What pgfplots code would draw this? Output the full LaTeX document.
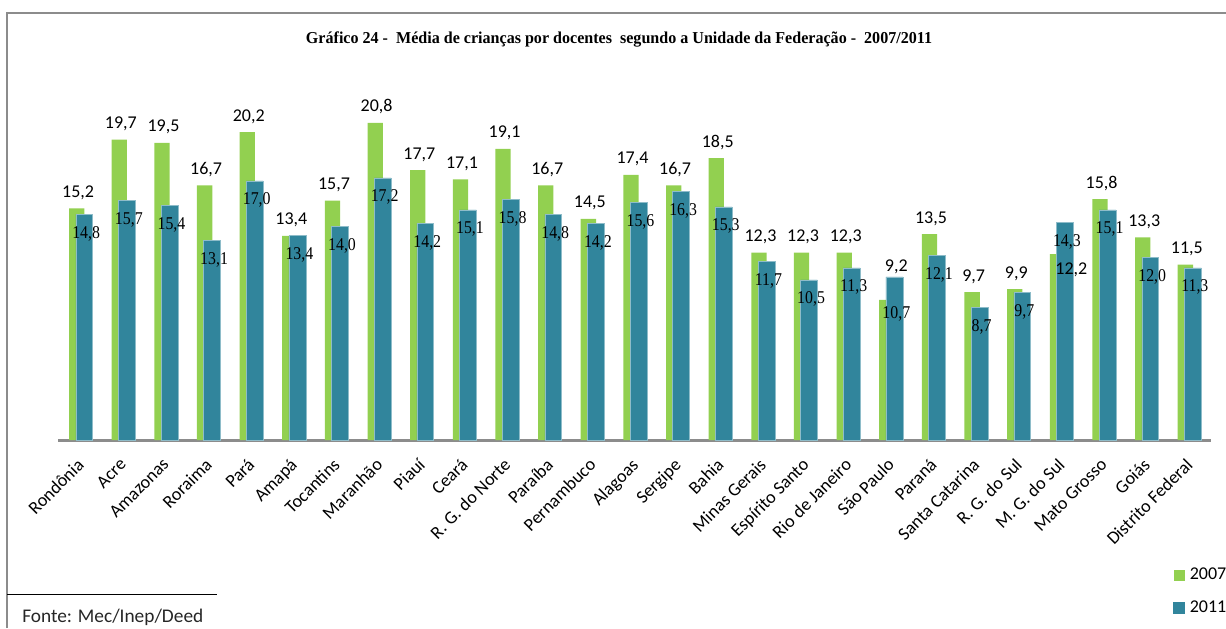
\documentclass[border=0pt]{standalone}
\usepackage{pgfplots}
\pgfplotsset{compat=1.18}
\usepackage{pgfplotstable}
\usepackage{graphicx}
\usepackage{fontspec}
\setmainfont{Carlito}
\newfontfamily\serifF{Liberation Serif}
\definecolor{g07}{HTML}{92D050}
\definecolor{t11}{HTML}{31859C}
\definecolor{framec}{HTML}{8C8C8C}

% x: category index; a: 2007; b: 2011; dxa, dya, dyb: label offsets in px
\pgfplotstableread{
x  a     dxa  dya  b     dyb
0  15.2  0    11   14.8  -24
1  19.7  0    11   15.7  -24
2  19.5  0    11   15.4  -24
3  16.7  0    11   13.1  -24
4  20.2  0    11   17.0  -24
5  13.4  0    11   13.4  -24
6  15.7  0    11   14.0  -24
7  20.8  0    11   17.2  -24
8  17.7  0    11   14.2  -24
9  17.1  0    11   15.1  -24
10 19.1  0    11   15.8  -24
11 16.7  0    11   14.8  -24
12 14.5  0    11   14.2  -24
13 17.4  0    11   15.6  -24
14 16.7  0    11   16.3  -24
15 18.5  0    11   15.3  -24
16 12.3  0    11   11.7  -24
17 12.3  0    11   10.5  -24
18 12.3  0    11   11.3  -24
19 9.2   8    28   10.7  -42
20 13.5  0    11   12.1  -24
21 9.7   0    11   8.7   -24
22 9.9   0    11   9.7   -24
23 12.2  12.5 -20  14.3  -24
24 15.8  0    11   15.1  -24
25 13.3  0    11   12.0  -24
26 11.5  0    11   11.3  -24
}\data

\begin{document}
\begin{tikzpicture}
\useasboundingbox (0,0) rectangle (919.5pt,-471pt);
\draw[framec, line width=1.7pt] (5.25pt,-471pt) -- (5.25pt,-9.75pt) -- (919.5pt,-9.75pt);
\draw[black, line width=0.75pt] (5.25pt,-445.5pt) -- (162.75pt,-445.5pt);
\node[anchor=base west, inner sep=0pt, font=\fontsize{14.5pt}{16pt}\selectfont, text=black!85] at (16.5pt,-466.5pt) {Fonte: Mec/Inep/Deed};
\node[anchor=base, inner sep=0pt, font=\serifF\bfseries\fontsize{12.5pt}{14pt}\selectfont] at (464.25pt,-32.5pt)
  {\resizebox{469.5pt}{\height}{Gráfico 24 -\ \ Média de crianças por docentes\ \ segundo a Unidade da Federação -\ \ 2007/2011}};

\begin{axis}[
  at={(43.5pt,-330pt)}, anchor=south west,
  scale only axis, width=864.75pt, height=251.5pt,
  xmin=-0.52, xmax=26.52, ymin=0, ymax=22,
  axis x line*=bottom, axis y line=none,
  x axis line style={framec, line width=2.25pt},
  ytick=\empty,
  xtick={0,...,26},
  xticklabels={Rondônia,Acre,Amazonas,Roraima,Pará,Amapá,Tocantins,Maranhão,Piauí,Ceará,R. G. do Norte,Paraíba,Pernambuco,Alagoas,Sergipe,Bahia,Minas Gerais,Espírito Santo,Rio de Janeiro,São Paulo,Paraná,Santa Catarina,R. G. do Sul,M. G. do Sul,Mato Grosso,Goiás,Distrito Federal},
  major tick length=0pt,
  xticklabel style={xshift=-3pt, yshift=-11.25pt, rotate=45, anchor=north east,
    font=\fontsize{13.6pt}{15pt}\selectfont, inner sep=1pt},
  /pgf/number format/use comma,
  /pgf/number format/fixed,
  /pgf/number format/fixed zerofill,
  /pgf/number format/precision=1,
  /pgf/number format/assume math mode=true,
  clip=false,
  legend style={at={(rel axis cs:0.967,-0.3817)}, anchor=north west, draw=none, fill=none,
    inner sep=0pt, row sep=14pt, column sep=3.75pt,
    font=\fontsize{13.5pt}{15pt}\selectfont,
    nodes={inner sep=0pt}},
  legend cell align=left,
]
\addplot[ybar, bar width=0.359, bar shift=-0.082, fill=g07, draw=none,
  legend image code/.code={\fill[g07] (0pt,-4.1pt) rectangle (8.25pt,4.1pt);}]
  table[x=x, y=a]{\data};
\addlegendentry{2007}
\addplot[ybar, bar width=0.394, bar shift=0.094, fill=t11, draw=t11!55!white, line width=0.4pt,
  legend image code/.code={\fill[t11] (0pt,-4.1pt) rectangle (8.25pt,4.1pt);}]
  table[x=x, y=b]{\data};
\addlegendentry{2011}
% 2011 labels
\addplot[draw=none, forget plot,
  nodes near coords={\scalebox{0.88}[1]{\pgfmathprintnumber{\pgfplotspointmeta}}},
  visualization depends on={\thisrow{dyb} \as \dyb},
  every node near coord/.append style={anchor=base, inner sep=0pt,
    font=\serifF\fontsize{13.5pt}{15pt}\selectfont,
    xshift=4.5pt, yshift={0.75pt*\dyb}}]
  table[x=x, y=b]{\data};
% 2007 labels
\addplot[draw=none, forget plot, nodes near coords,
  visualization depends on={\thisrow{dxa} \as \dxa},
  visualization depends on={\thisrow{dya} \as \dya},
  every node near coord/.append style={anchor=base, inner sep=0pt,
    font=\fontsize{13.5pt}{15pt}\selectfont,
    xshift={0.75pt*\dxa-1.5pt}, yshift={0.75pt*\dya}}]
  table[x=x, y=a]{\data};
\end{axis}
\end{tikzpicture}
\end{document}
